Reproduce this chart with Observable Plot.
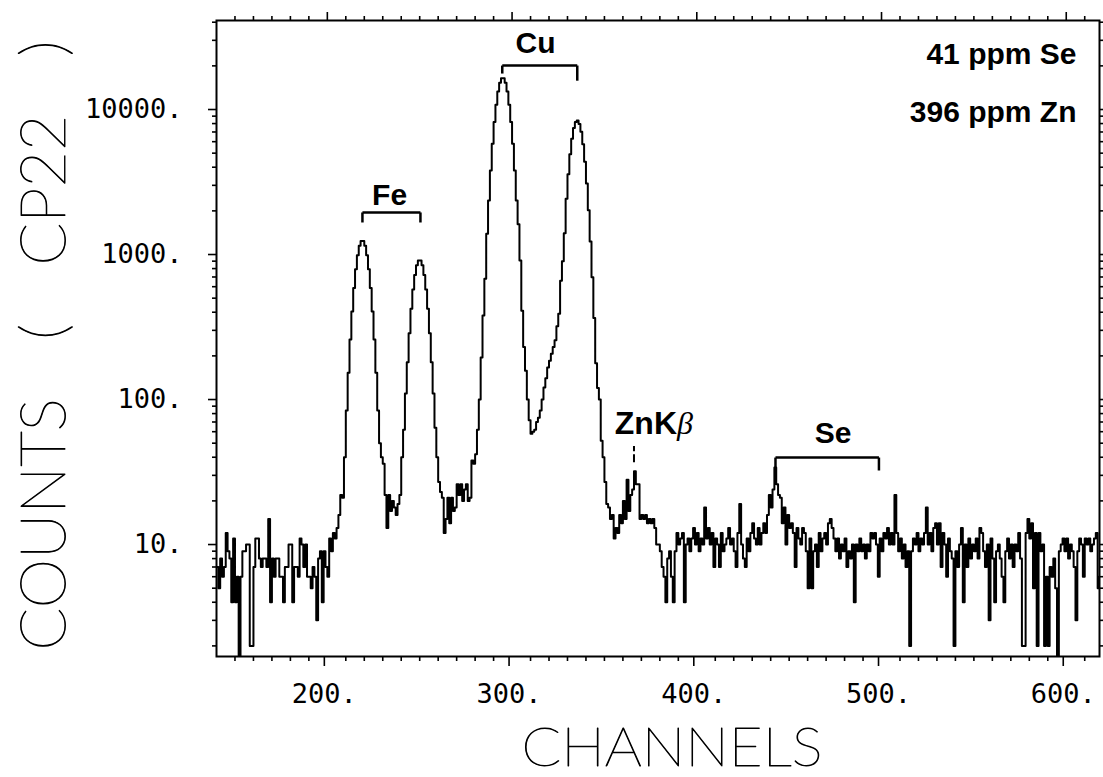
<!DOCTYPE html>
<html>
<head>
<meta charset="utf-8">
<script src="https://cdn.jsdelivr.net/npm/d3@7"></script>
<script src="https://cdn.jsdelivr.net/npm/@observablehq/plot@0.6"></script>
<style>
  html, body { margin: 0; padding: 0; background: #fff; overflow: hidden; }
  #chart { width: 1103px; height: 777px; }
</style>
</head>
<body>
<div id="chart"></div>
<script>
// ---------------- DATA (counts per channel) ----------------
const firstChannel = 140;

// channels 140 – 207
const lowBackground = [
  7, 5, 8, 6, 7, 12, 9, 8, 4, 11,
  4, 6, 1, 6, 9, 9, 10, 10, 2, 2,
  7, 11, 11, 8, 7, 8, 8, 7, 15, 4,
  8, 6, 8, 8, 6, 6, 4, 7, 7, 10,
  10, 4, 7, 7, 6, 11, 10, 7, 10, 6,
  6, 5, 7, 6, 3, 8, 9, 4, 9, 7,
  6, 11, 9, 12, 11, 13, 16, 22
];

// channels 208 – 277 (Fe Kα / Fe Kβ)
const ironPeaks = [
  21, 40, 84, 153, 259, 404, 587, 790, 990, 1150,
  1240, 1240, 1150, 990, 790, 587, 404, 259, 153, 84,
  50, 40, 36, 22, 13, 22, 17, 20, 18, 16,
  19, 22, 40, 62, 110, 181, 287, 422, 574, 723,
  844, 911, 911, 844, 723, 574, 422, 287, 181, 110,
  64, 40, 27, 23, 21, 12, 15, 21, 14, 21,
  17, 18, 26, 22, 26, 20, 24, 26, 20, 21
];

// channels 278 – 369 (Cu Kα / Cu Kβ, Zn Kβ)
const copperPeaks = [
  38, 36, 42, 62, 100, 195, 380, 680, 1390, 2360,
  3800, 5800, 8200, 10800, 13300, 15300, 16400, 16400, 15300, 13300,
  10800, 8200, 5800, 3800, 2360, 1620, 910, 410, 230, 158,
  100, 72, 58, 60, 62, 70, 75, 84, 100, 121,
  140, 166, 185, 207, 230, 256, 320, 390, 660, 900,
  1400, 2420, 3580, 4920, 6280, 7450, 8200, 8390, 7960, 7020,
  5750, 4370, 3090, 2020, 1230, 697, 365, 178, 120, 100,
  52, 40, 27, 19, 18, 15, 16, 11, 13, 12,
  16, 14, 20, 15, 28, 17, 22, 24, 32, 26,
  26, 15
];

// channels 370 – 619 (background, Se peak)
const highBackground = [
  16, 15, 16, 14, 15, 14, 15, 13, 10, 10,
  9, 7, 6, 4, 8, 9, 6, 4, 9, 12,
  10, 11, 12, 4, 10, 11, 9, 11, 13, 10,
  12, 9, 11, 10, 18, 11, 13, 10, 12, 7,
  11, 10, 7, 12, 9, 10, 11, 13, 10, 11,
  9, 7, 12, 19, 10, 8, 7, 11, 9, 12,
  14, 11, 10, 13, 10, 12, 14, 12, 16, 22,
  18, 24, 34, 26, 22, 21, 14, 18, 10, 16,
  13, 14, 12, 7, 13, 11, 10, 13, 12, 9,
  5, 11, 5, 9, 10, 7, 12, 9, 11, 12,
  10, 14, 15, 13, 11, 9, 11, 8, 10, 9,
  11, 7, 9, 8, 10, 4, 10, 9, 11, 9,
  10, 8, 10, 9, 12, 11, 12, 10, 6, 11,
  9, 12, 11, 13, 10, 12, 10, 22, 12, 9,
  11, 8, 10, 7, 9, 2, 9, 11, 10, 12,
  9, 11, 10, 12, 18, 10, 12, 9, 13, 14,
  10, 14, 7, 12, 10, 6, 11, 9, 8, 2,
  9, 7, 10, 13, 4, 10, 7, 11, 8, 10,
  9, 11, 8, 13, 12, 9, 7, 10, 3, 11,
  8, 4, 9, 10, 8, 6, 4, 9, 11, 8,
  10, 7, 10, 9, 12, 8, 2, 2, 12, 15,
  11, 14, 5, 12, 2, 12, 9, 10, 2, 6,
  2, 7, 6, 8, 5, 1, 9, 10, 11, 9,
  11, 8, 10, 9, 7, 3, 9, 11, 10, 6,
  11, 10, 11, 9, 10, 11, 12, 5, 6, 5
];

// axis tick values
const xTickLabels = [200, 300, 400, 500, 600];
const xMinorTicks = [150,160,170,180,190,210,220,230,240,250,260,270,280,290,
  310,320,330,340,350,360,370,380,390,410,420,430,440,450,460,470,480,490,
  510,520,530,540,550,560,570,580,590,610];
const yTickLabels = [10, 100, 1000, 10000];
const yMinorTicks = [2,3,4,5,6,7,8,9,20,30,40,50,60,70,80,90,
  200,300,400,500,600,700,800,900,2000,3000,4000,5000,6000,7000,8000,9000,
  20000,30000,40000];

// peak annotations (in data units: channel, counts)
const peakNames = ["Fe", "Cu", "Se"];
const peakNameChannel = [233.7, 312.7, 473.8];
const peakNameCount = [2180, 24700, 49.8];
const bracketFrom = [219, 294.7, 442.6];
const bracketTo = [250.4, 335.3, 498.6];
const bracketLevel = [1950, 20100, 39.8];
const bracketLeftFoot = [1663, 17700, 34];
const bracketRightFoot = [1663, 15800, 32.4];
const znLabelChannel = 389.3;
const znLabelCount = 58;
const znMarkChannel = 366;
const znMarkFrom = 36.7;
const znMarkTo = 47.4;
const sampleLines = ["41 ppm Se", "396 ppm Zn"];

// ---------------- BUILD ----------------
const counts = [...lowBackground, ...ironPeaks, ...copperPeaks, ...highBackground];
const spectrum = counts.map((c, i) => ({channel: firstChannel + i, count: c}));
const brackets = peakNames.map((name, i) => ({
  name, tx: peakNameChannel[i], ty: peakNameCount[i],
  x1: bracketFrom[i], x2: bracketTo[i], y: bracketLevel[i],
  yl: bracketLeftFoot[i], yr: bracketRightFoot[i]
}));

const bold = {fontFamily: "'Liberation Sans', Arial, sans-serif", fontWeight: "bold"};
const plotter = {fontFamily: "Lato, 'DejaVu Sans', sans-serif", fontWeight: 200, fill: "#000", stroke: "#000", strokeWidth: 0.9};

const chart = Plot.plot({
  width: 1103,
  height: 777,
  marginLeft: 216,
  marginRight: 4,
  marginTop: 20,
  marginBottom: 121,
  x: {domain: [140, 618]},
  y: {type: "log", domain: [1.69, 41100]},
  style: {fontFamily: "'DejaVu Sans Mono', monospace", fontSize: "27px", background: "#fff", color: "#000"},
  marks: [
    Plot.line(spectrum, {x: "channel", y: "count", curve: "step-after", stroke: "#000", strokeWidth: 2, clip: true}),
    Plot.frame({stroke: "#000", strokeWidth: 2}),
    // bottom axis
    Plot.axisX(xMinorTicks, {anchor: "bottom", tickSize: 5, tickFormat: () => "", strokeWidth: 1.6, label: null}),
    Plot.axisX(xTickLabels, {anchor: "bottom", tickSize: 10, tickPadding: 17, dx: -3, tickFormat: d => d + ".", strokeWidth: 1.6, label: null}),
    // top axis
    Plot.axisX(xMinorTicks, {anchor: "top", tickSize: 5, tickFormat: () => "", strokeWidth: 1.6, label: null}),
    Plot.axisX(xTickLabels, {anchor: "top", tickSize: 9, tickFormat: () => "", strokeWidth: 1.6, label: null}),
    // left axis
    Plot.axisY(yMinorTicks, {anchor: "left", tickSize: 4, tickFormat: () => "", strokeWidth: 1.6, label: null}),
    Plot.axisY(yTickLabels, {anchor: "left", tickSize: 8, tickPadding: 26, tickFormat: d => d + ".", strokeWidth: 1.6, label: null}),
    // right axis
    Plot.axisY(yMinorTicks, {anchor: "right", tickSize: 4, tickFormat: () => "", strokeWidth: 1.6, label: null}),
    Plot.axisY(yTickLabels, {anchor: "right", tickSize: 8, tickFormat: () => "", strokeWidth: 1.6, label: null}),
    // brackets
    Plot.link(brackets, {x1: "x1", x2: "x2", y1: "y", y2: "y", stroke: "#000", strokeWidth: 2.5}),
    Plot.link(brackets, {x1: "x1", x2: "x1", y1: "y", y2: "yl", stroke: "#000", strokeWidth: 2.5}),
    Plot.link(brackets, {x1: "x2", x2: "x2", y1: "y", y2: "yr", stroke: "#000", strokeWidth: 2.5}),
    Plot.text(brackets, {x: "tx", y: "ty", text: "name", textAnchor: "middle", lineAnchor: "bottom", fontSize: 30, letterSpacing: 2, ...bold}),
    // Zn Kβ
    Plot.ruleX([znMarkChannel], {y1: znMarkFrom, y2: znMarkTo, stroke: "#000", strokeWidth: 2, strokeDasharray: "8,3"}),
    Plot.text(["ZnK"], {x: () => znLabelChannel, y: () => znLabelCount, textAnchor: "end", lineAnchor: "bottom", fontSize: 32, letterSpacing: 1, ...bold}),
    Plot.text(["β"], {x: () => znLabelChannel, y: () => znLabelCount, textAnchor: "start", lineAnchor: "bottom", fontSize: 32, fontStyle: "italic", fontFamily: "'Liberation Serif', serif", fontWeight: "normal"}),
    // sample description
    Plot.text([sampleLines[0]], {frameAnchor: "top-right", dx: -23, dy: 43, textAnchor: "end", lineAnchor: "bottom", fontSize: 30, letterSpacing: 3, ...bold}),
    Plot.text([sampleLines[1]], {frameAnchor: "top-right", dx: -23, dy: 101, textAnchor: "end", lineAnchor: "bottom", fontSize: 30, letterSpacing: 3, ...bold}),
    // axis titles
    Plot.text(["CHANNELS"], {frameAnchor: "bottom", dx: 14, dy: 109, textAnchor: "middle", lineAnchor: "bottom", fontSize: 54, ...plotter}),
    Plot.text(["COUNTS ( CP22 )"], {frameAnchor: "left", rotate: -90, dx: -152, dy: 7, textAnchor: "middle", lineAnchor: "bottom", fontSize: 62, ...plotter})
  ]
});

document.getElementById("chart").appendChild(chart);

// stretch the plotter-style axis titles to the reference widths
d3.select(chart).selectAll("text").each(function() {
  const t = this.textContent;
  if (t === "CHANNELS") {
    this.setAttribute("textLength", 301);
    this.setAttribute("lengthAdjust", "spacingAndGlyphs");
  } else if (t === "COUNTS ( CP22 )") {
    this.style.wordSpacing = "40px";
    this.setAttribute("textLength", 610);
    this.setAttribute("lengthAdjust", "spacingAndGlyphs");
  }
});
d3.select(chart).selectAll("text").style("font-variant-numeric", "slashed-zero");
</script>
</body>
</html>
